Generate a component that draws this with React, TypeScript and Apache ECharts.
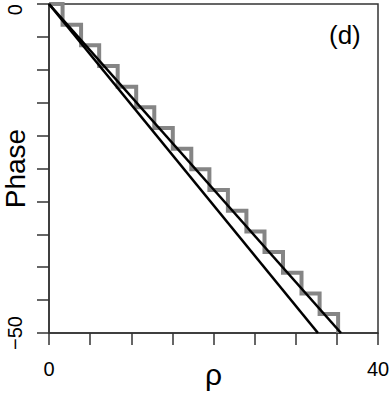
import React, { useEffect, useRef } from "react";
import * as echarts from "echarts";

// Staircase (gray): rho where each step drops, and the phase level of each step
const stepRho = [1.65, 3.9, 6.1, 8.35, 10.6, 12.8, 15.05, 17.3, 19.5, 21.75, 24.0, 26.2, 28.45, 30.7, 32.9, 35.15];
const stepPhase = [0, -3.14, -6.28, -9.42, -12.57, -15.71, -18.85, -21.99, -25.13, -28.27, -31.42, -34.56, -37.7, -40.84, -43.98, -47.12, -50];

// Straight black lines
const lineARho = [0, 32.7];
const lineAPhase = [0, -50];
const lineBRho = [0, 35.5];
const lineBPhase = [0, -50];

const xLabels = [0, 40];
const yLabels = [0, -50];
const panelLabel = "(d)";

const FONT = "'Liberation Sans', Arial, Helvetica, sans-serif";
const AXIS_COLOR = "#333";

export default function App() {
  const ref = useRef<HTMLDivElement>(null);

  useEffect(() => {
    if (!ref.current) return;
    const chart = echarts.init(ref.current, null, { renderer: "svg" });

    const stairs: number[][] = [[0, stepPhase[0]]];
    for (let k = 0; k < stepRho.length; k++) {
      stairs.push([stepRho[k], stepPhase[k]]);
      stairs.push([stepRho[k], stepPhase[k + 1]]);
    }
    const lineA = lineARho.map((r, i) => [r, lineAPhase[i]]);
    const lineB = lineBRho.map((r, i) => [r, lineBPhase[i]]);

    const fmt = (v: number) => String(v).replace("-", "\u2212");

    chart.setOption({
      animation: false,
      grid: {
        left: 49,
        right: 12,
        top: 4,
        bottom: 66,
        containLabel: false,
        outerBoundsMode: "none",
        show: true,
        borderColor: AXIS_COLOR,
        borderWidth: 1.5,
        backgroundColor: "transparent",
      },
      xAxis: {
        type: "value",
        min: 0,
        max: 40,
        interval: 5,
        name: "ρ",
        nameLocation: "middle",
        nameGap: 26,
        nameMoveOverlap: false,
        nameTextStyle: { fontSize: 30, color: "#000", fontFamily: FONT },
        axisLine: { show: true, onZero: false, lineStyle: { color: AXIS_COLOR, width: 1.5 } },
        axisTick: { show: true, length: 12, lineStyle: { color: AXIS_COLOR, width: 1.5 } },
        splitLine: { show: false },
        axisLabel: {
          margin: 26,
          fontSize: 20,
          color: "#000",
          fontFamily: FONT,
          showMinLabel: true,
          showMaxLabel: true,
          formatter: (v: number) => (xLabels.includes(v) ? fmt(v) : ""),
        },
      },
      yAxis: {
        type: "value",
        min: -50,
        max: 0,
        interval: 5,
        name: "Phase",
        nameLocation: "middle",
        nameGap: 20,
        nameMoveOverlap: false,
        nameTextStyle: { fontSize: 28, color: "#000", fontFamily: FONT },
        axisLine: { show: true, onZero: false, lineStyle: { color: AXIS_COLOR, width: 1.5 } },
        axisTick: { show: true, length: 12, lineStyle: { color: AXIS_COLOR, width: 1.5 } },
        splitLine: { show: false },
        axisLabel: {
          margin: 24,
          fontSize: 20,
          rotate: 90,
          color: "#000",
          fontFamily: FONT,
          showMinLabel: true,
          showMaxLabel: true,
          alignMaxLabel: "right",
          formatter: (v: number) => (yLabels.includes(v) ? fmt(v) : ""),
        },
      },
      graphic: [
        {
          type: "text",
          left: 329,
          top: 22,
          style: {
            text: panelLabel,
            fontSize: 26,
            fontFamily: FONT,
            fill: "#000",
          },
        },
      ],
      series: [
        {
          type: "line",
          data: stairs,
          showSymbol: false,
          symbol: "none",
          lineStyle: { color: "#858585", width: 4, join: "miter" },
          z: 2,
        },
        {
          type: "line",
          data: lineA,
          showSymbol: false,
          symbol: "none",
          lineStyle: { color: "#000", width: 2.6 },
          z: 3,
        },
        {
          type: "line",
          data: lineB,
          showSymbol: false,
          symbol: "none",
          lineStyle: { color: "#000", width: 2.6 },
          z: 3,
        },
      ],
    });

    return () => chart.dispose();
  }, []);

  return (
    <div
      ref={ref}
      style={{ position: "fixed", left: 0, top: 0, width: 390, height: 399, background: "#fff" }}
    />
  );
}
